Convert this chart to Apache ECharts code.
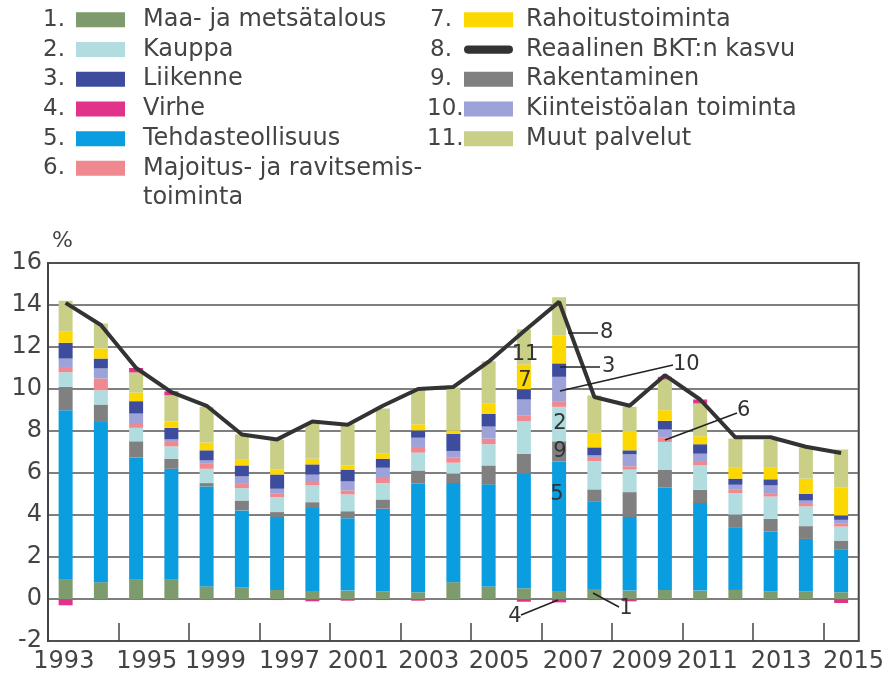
<!DOCTYPE html>
<html><head><meta charset="utf-8">
<script src="https://cdn.jsdelivr.net/npm/echarts@6/dist/echarts.min.js"></script>
<style>html,body{margin:0;padding:0;background:#fff}#c{width:887px;height:681px}</style>
</head><body><div id="c"></div>
<script>
// ---- data ----
const years = ['1993','1994','1995','1996','1997','1998','1999','2000','2001','2002','2003','2004','2005','2006','2007','2008','2009','2010','2011','2012','2013','2014','2015'];
const maa          = [0.92,0.80,0.95,0.95,0.60,0.56,0.43,0.35,0.40,0.37,0.32,0.80,0.60,0.51,0.35,0.48,0.40,0.43,0.40,0.43,0.37,0.37,0.32];
const tehdas       = [8.07,7.63,5.78,5.25,4.76,3.66,3.47,3.98,3.45,3.93,5.17,4.72,4.86,5.46,6.20,4.17,3.50,4.87,4.17,2.99,2.84,2.49,2.02];
const rakentaminen = [1.11,0.83,0.78,0.48,0.16,0.47,0.24,0.28,0.33,0.44,0.63,0.45,0.90,0.95,0.96,0.57,1.19,0.86,0.63,0.60,0.61,0.61,0.44];
const kauppa       = [0.70,0.68,0.64,0.59,0.68,0.59,0.71,0.80,0.80,0.78,0.85,0.52,1.01,1.54,1.64,1.35,1.07,1.32,1.16,1.02,1.06,0.94,0.67];
const majoitus     = [0.25,0.56,0.23,0.21,0.24,0.24,0.19,0.21,0.19,0.29,0.27,0.24,0.27,0.29,0.24,0.19,0.16,0.20,0.21,0.16,0.16,0.16,0.16];
const kiinteisto   = [0.40,0.48,0.45,0.12,0.16,0.32,0.21,0.30,0.43,0.44,0.44,0.32,0.57,0.75,1.19,0.08,0.57,0.39,0.35,0.24,0.37,0.12,0.16];
const liikenne     = [0.75,0.47,0.59,0.55,0.48,0.52,0.68,0.49,0.56,0.43,0.35,0.82,0.61,0.49,0.64,0.38,0.19,0.41,0.45,0.29,0.29,0.32,0.21];
const rahoitus     = [0.53,0.48,0.41,0.31,0.37,0.27,0.24,0.27,0.20,0.24,0.29,0.16,0.48,1.18,1.32,0.65,0.92,0.51,0.38,0.55,0.58,0.72,1.32];
const muut         = [1.47,1.19,0.96,1.24,1.70,1.21,1.42,1.67,1.96,2.15,1.65,2.04,2.02,1.67,1.83,1.82,1.15,1.46,1.56,1.36,1.31,1.48,1.82];
const virhe        = [-0.30,0,0.21,0.19,0,0,-0.05,-0.11,-0.08,-0.05,-0.08,0,0,-0.13,-0.16,-0.05,-0.11,0.13,0.19,0,0,0,-0.19];
const bkt          = [14.1,13.05,11.0,9.85,9.2,7.83,7.6,8.45,8.3,9.2,10.0,10.1,11.3,12.75,14.15,9.62,9.2,10.66,9.5,7.7,7.7,7.25,6.95];
// x-axis tick labels as printed in the source (and where they sit, in bar slots)
const xTickLabels = ['1993','1995','1999','1997','2001','2003','2005','2007','2009','2011','2013','2015'];
const xLabelSlots = [0.45,2.8,4.75,6.85,8.8,10.8,12.8,14.9,16.85,18.7,20.8,22.85];
const xTickSlots  = [2,4,6,8,10,12,14,16,18,20,22];

const names = {
  maa:'Maa- ja metsätalous', kauppa:'Kauppa', liikenne:'Liikenne', virhe:'Virhe',
  tehdas:'Tehdasteollisuus', majoitus:'Majoitus- ja ravitsemistoiminta', rahoitus:'Rahoitustoiminta',
  bkt:'Reaalinen BKT:n kasvu', rak:'Rakentaminen', kiint:'Kiinteistöalan toiminta', muut:'Muut palvelut'
};
const colors = {
  maa:'#7e9b6d', kauppa:'#b2dde0', liikenne:'#3e4c9e', virhe:'#e2338a', tehdas:'#0a9de0',
  majoitus:'#f0898f', rahoitus:'#fdd800', bkt:'#333333', rak:'#808080', kiint:'#9da2d8', muut:'#c9cf86'
};

const FONT = 'DejaVu Sans';
const TXT = '#444';

function barSeries(key, data){
  return {name:names[key], type:'bar', stack:'s', data:data, barWidth:14,
    itemStyle:{color:colors[key]}, emphasis:{disabled:true}, xAxisIndex:0, yAxisIndex:0};
}

const chart = echarts.init(document.getElementById('c'), null, {renderer:'canvas'});

const capsule = 'path://M4,0 H44 A4,4 0 0 1 44,8 H4 A4,4 0 0 1 4,0 Z';

const legendText = {fontFamily:FONT, fontSize:24, color:TXT, lineHeight:29.7};

const annText = (x,y,t,align) => ({type:'text', x:x, y:y, style:{text:t, font:'21px "DejaVu Sans"', fill:'#333', align:align||'center', verticalAlign:'middle'}, z:100});
const annLine = (x1,y1,x2,y2) => ({type:'line', shape:{x1:x1,y1:y1,x2:x2,y2:y2}, style:{stroke:'#222', lineWidth:1.5}, z:100});
const num = (x,y,t) => ({type:'text', x:x, y:y, style:{text:t, font:'23px "DejaVu Sans"', fill:TXT, align:'left', verticalAlign:'middle'}});

chart.setOption({
  animation:false,
  textStyle:{fontFamily:FONT},
  grid:{left:48, right:28, top:263, bottom:40, show:true, borderColor:'#444', borderWidth:2},
  legend:[
    {left:76, top:5, orient:'vertical', itemGap:0, itemWidth:49, itemHeight:15, icon:'rect',
     padding:0, selectedMode:false,
     textStyle:Object.assign({padding:[0,0,0,13]}, legendText),
     formatter: n => n === names.majoitus ? 'Majoitus- ja ravitsemis-' : n,
     data:[names.maa, names.kauppa, names.liikenne, names.virhe, names.tehdas, names.majoitus]},
    {left:464, top:5, orient:'vertical', itemGap:0, itemWidth:49, itemHeight:15, icon:'rect',
     padding:0, selectedMode:false,
     textStyle:Object.assign({padding:[0,0,0,8]}, legendText),
     data:[names.rahoitus, {name:names.bkt, icon:capsule}, names.rak, names.kiint, names.muut]}
  ],
  xAxis:[
    {type:'category', data:years, position:'top', show:false, boundaryGap:true},
    {type:'value', position:'bottom', min:0, max:23,
     axisLine:{show:false}, splitLine:{show:false},
     axisTick:{show:true, inside:true, length:18, customValues:xTickSlots, lineStyle:{color:'#444', width:1.5}},
     axisLabel:{show:true, customValues:xLabelSlots, margin:9, fontFamily:FONT, fontSize:24, color:TXT,
       formatter: v => { const i = xLabelSlots.findIndex(s => Math.abs(s - v) < 1e-6); return i >= 0 ? xTickLabels[i] : ''; }}}
  ],
  yAxis:{type:'value', min:-2, max:16, interval:2,
    name:'%', nameLocation:'end', nameGap:11,
    nameTextStyle:{fontFamily:FONT, fontSize:22, color:TXT, align:'left', padding:[0,0,0,4]},
    axisLine:{show:true, lineStyle:{color:'#444', width:2}}, axisTick:{show:false},
    axisLabel:{fontFamily:FONT, fontSize:24, color:TXT, margin:6},
    splitLine:{show:true, lineStyle:{color:'#555', width:1.6}}},
  series:[
    barSeries('maa', maa),
    barSeries('tehdas', tehdas),
    barSeries('rak', rakentaminen),
    barSeries('kauppa', kauppa),
    barSeries('majoitus', majoitus),
    barSeries('kiint', kiinteisto),
    barSeries('liikenne', liikenne),
    barSeries('rahoitus', rahoitus),
    barSeries('muut', muut),
    barSeries('virhe', virhe),
    {name:names.bkt, type:'line', data:bkt, xAxisIndex:0, yAxisIndex:0, symbol:'none', z:10,
     lineStyle:{color:colors.bkt, width:4}, itemStyle:{color:colors.bkt}, emphasis:{disabled:true}}
  ],
  graphic:[
    num(43,20,'1.'), num(43,50,'2.'), num(43,79,'3.'), num(43,109,'4.'), num(43,139,'5.'), num(43,168,'6.'),
    {type:'text', x:143, y:198, style:{text:'toiminta', font:'24px "DejaVu Sans"', fill:TXT, align:'left', verticalAlign:'middle'}},
    num(430,20,'7.'), num(430,50,'8.'), num(430,79,'9.'), num(427,109,'10.'), num(427,139,'11.'),
    annText(525,355,'11'), annText(525,381,'7'), annText(560,424,'2'), annText(560,452,'9'), annText(557,495,'5'),
    annLine(568,333,598,333), annText(600,333,'8','left'),
    annLine(560,367,600,367), annText(602,367,'3','left'),
    annLine(560,391,673,365), annText(673,365,'10','left'),
    annLine(665,440,737,413), annText(737,411,'6','left'),
    annLine(558,600,521,615), annText(515,617,'4'),
    annLine(593,593,619,607), annText(626,609,'1')
  ]
});
</script>
</body></html>
